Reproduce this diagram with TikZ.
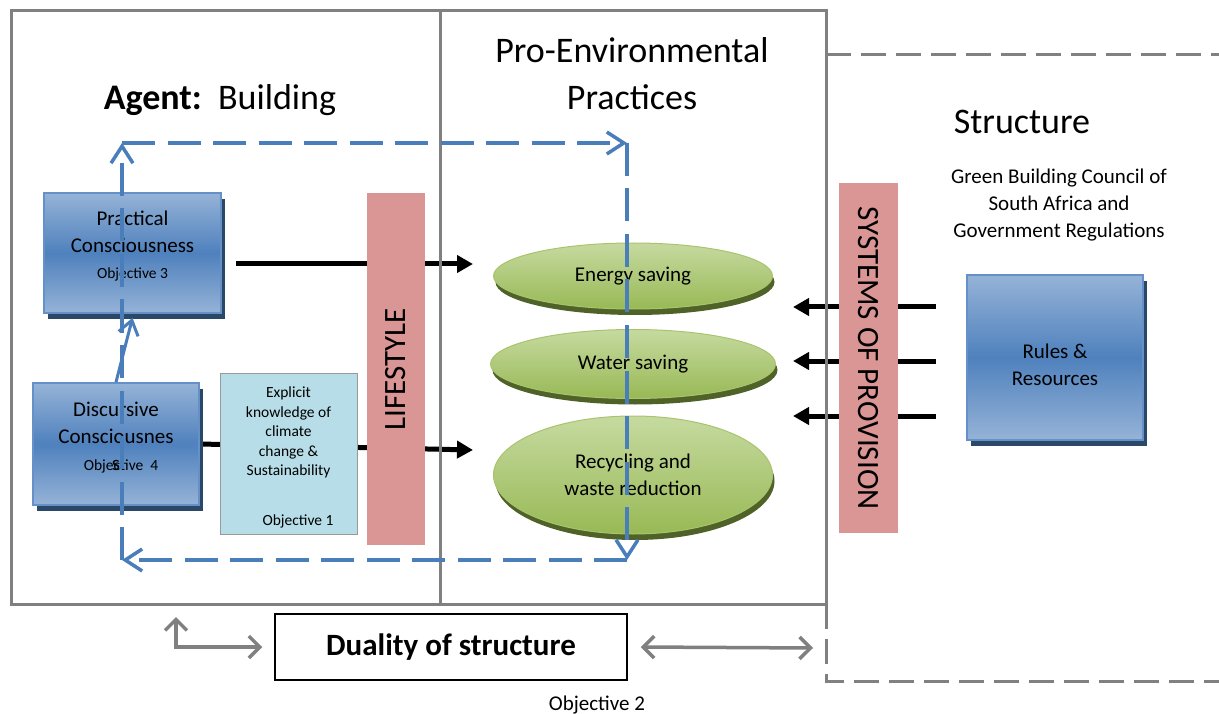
\documentclass[tikz,border=0pt]{standalone}
\usepackage{fontspec}
\setmainfont{Carlito}
\usetikzlibrary{arrows.meta,positioning,shapes.geometric,shadows,backgrounds}

\definecolor{framegray}{HTML}{808080}
\definecolor{loopblue}{HTML}{4A7EBB}
\definecolor{boxlight}{HTML}{95B3D7}
\definecolor{boxmid}{HTML}{4F81BD}
\definecolor{boxedge}{HTML}{6590C8}
\definecolor{boxshade}{HTML}{2A4868}
\definecolor{barpink}{HTML}{D99694}
\definecolor{notecyan}{HTML}{B7DEE8}
\definecolor{leaflight}{HTML}{C6DAA0}
\definecolor{leafdark}{HTML}{98B955}
\definecolor{leafedge}{HTML}{A9C46E}
\definecolor{leafshade}{HTML}{4F6228}

\newcommand{\titlesize}{\fontsize{36}{47}\selectfont}
\newcommand{\boxsize}{\fontsize{21}{27}\selectfont}
\newcommand{\objsize}{\fontsize{15.5}{19.4}\selectfont}

\begin{document}
\begin{tikzpicture}[x=1pt,y=-1pt,on grid,
    consbox/.style={rectangle,draw=boxedge,line width=1.6pt,inner sep=0pt,
      top color=boxlight,bottom color=boxlight,middle color=boxmid,
      drop shadow={shadow xshift=4pt,shadow yshift=-6pt,fill=boxshade,opacity=1}},
    bar/.style={rectangle,fill=barpink,inner sep=0pt,font=\fontsize{31}{37}\selectfont},
    practice/.style={ellipse,draw=leafedge,line width=1pt,inner sep=0pt,
      top color=leaflight,bottom color=leafdark,font=\boxsize,align=center,
      drop shadow={shadow xshift=2pt,shadow yshift=-6pt,fill=leafshade,opacity=1}},
    flow/.style={line width=5pt,-{Triangle[length=16pt,width=17pt]}},
    cycleline/.style={loopblue,line width=3.5pt,dash pattern=on 33pt off 12.5pt,
      -{Straight Barb[length=17pt,width=22pt]}},
    dual/.style={framegray,line width=3.5pt,
      {Straight Barb[length=11pt,width=22pt]}-{Straight Barb[length=11pt,width=22pt]}}]
    \useasboundingbox (0,0) rectangle (1219,714);
    % agent / practices frame and the structure side
    \draw[framegray,line width=3pt] (11,11) rectangle (826,604) (440,11) -- (440,604);
    \draw[framegray,line width=3pt,dash pattern=on 25pt off 10pt]
      (826,55) -- (1219,55) (826,604) -- (826,681) -- (1219,681);

    % headings
    \node[anchor=base,font=\titlesize] (agent) at (220,110) {\textbf{Agent:}\ \ Building};
    \node[anchor=base,font=\titlesize] (pro) at (632,63) {Pro-Environmental};
    \node[anchor=base,font=\titlesize] (practices) at (632,110) {Practices};
    \node[anchor=base,font=\titlesize] (structure) at (1022,134) {Structure};
    \node[font=\boxsize,align=center] (council) at (1059,205)
      {Green Building Council of\\South Africa and\\Government Regulations};

    % consciousness boxes
    \node[consbox,minimum width=177pt,minimum height=120pt] (pc) at (132.5,253) {};
    \node[font=\boxsize,align=center] (pctext) at ([yshift=7pt]pc.center)
      {Practical\\Consciousness\\[-1pt]{\objsize Objective 3}};
    \node[consbox,minimum width=166pt,minimum height=122pt] (dc) at (116,444) {};
    \node[font=\boxsize,align=center] (dctext) at ([yshift=8pt]dc.center)
      {Discursive\\Consciousnes\\s};
    \node[font=\objsize] (dcobj) at (121,466) {Objective\ \ 4};

    \node[rectangle,draw=gray!80,fill=notecyan,line width=0.8pt,
      minimum width=137pt,minimum height=161pt] (explicit) at (288.5,453.5) {};
    \node[font=\objsize,align=center] (explicittext) at ([yshift=21pt]explicit.center)
      {Explicit\\knowledge of\\climate\\change \&\\Sustainability};
    \node[font=\objsize] (obj1) at (298,521) {Objective 1};

    \node[bar,rotate=90,minimum width=352pt,minimum height=58pt] (lifestyle) at (396,369) {LIFESTYLE};
    \node[bar,rotate=-90,minimum width=350pt,minimum height=59pt] (sop) at (868.5,358) {SYSTEMS OF PROVISION};

    % practices
    \node[practice,minimum width=279pt,minimum height=66pt] (energy) at (633,276) {Energy saving};
    \node[practice,minimum width=285pt,minimum height=69pt,below=88pt of energy] (water) {Water saving};
    \node[practice,minimum width=279pt,minimum height=118pt,below=111pt of water] (recycle)
      {Recycling and\\waste reduction};

    \node[consbox,minimum width=176pt,minimum height=165pt] (rules) at (1055,357.5) {};
    \node[font=\boxsize,align=center] (rulestext) at ([yshift=-7pt]rules.center) {Rules \&\\Resources};

    \node[draw,line width=1.5pt,minimum width=352pt,minimum height=66pt,
      font=\fontsize{31}{37}\selectfont\bfseries] (duality) at (451,647) {Duality of structure};
    \node[font=\fontsize{21}{26}\selectfont] (obj2) at (597,705) {Objective 2};

    % black flows pass behind the boxes
    \begin{scope}[on background layer]
    \coordinate (pcout) at (236,264);
    \coordinate (eshead) at (473,264);
    \coordinate (rchead) at (473,450);
    \path[flow]
    (pcout) edge (eshead)
    (dc.east) edge (rchead)
    ; %end path
    \foreach \y [count=\i] in {307,361,416}{
      \coordinate (src\i) at (936,\y);
      \coordinate (dst\i) at (793,\y);
      \draw[flow] (src\i) -- (dst\i);}
    \end{scope}

    % feedback loop
    \coordinate (lt) at (122,143);
    \coordinate (rt) at (627,143);
    \coordinate (rb) at (627,560);
    \coordinate (lb) at (122,560);
    \path[cycleline]
    (lb) edge (lt)
    (lt) edge (rt)
    (rt) edge (rb)
    (rb) edge (lb)
    ; %end path
    \draw[loopblue,line width=3pt,-{Straight Barb[length=14pt,width=20pt]}]
      (dc.north) -- ([yshift=-4pt]pc.south);

    \coordinate (uptip) at (176,617);
    \coordinate (rightend) at (813,648);
    \draw[dual] (uptip) |- ([xshift=-12pt]duality.west);
    \draw[dual] ([xshift=13pt]duality.east) -- (rightend);
\end{tikzpicture}
\end{document}
